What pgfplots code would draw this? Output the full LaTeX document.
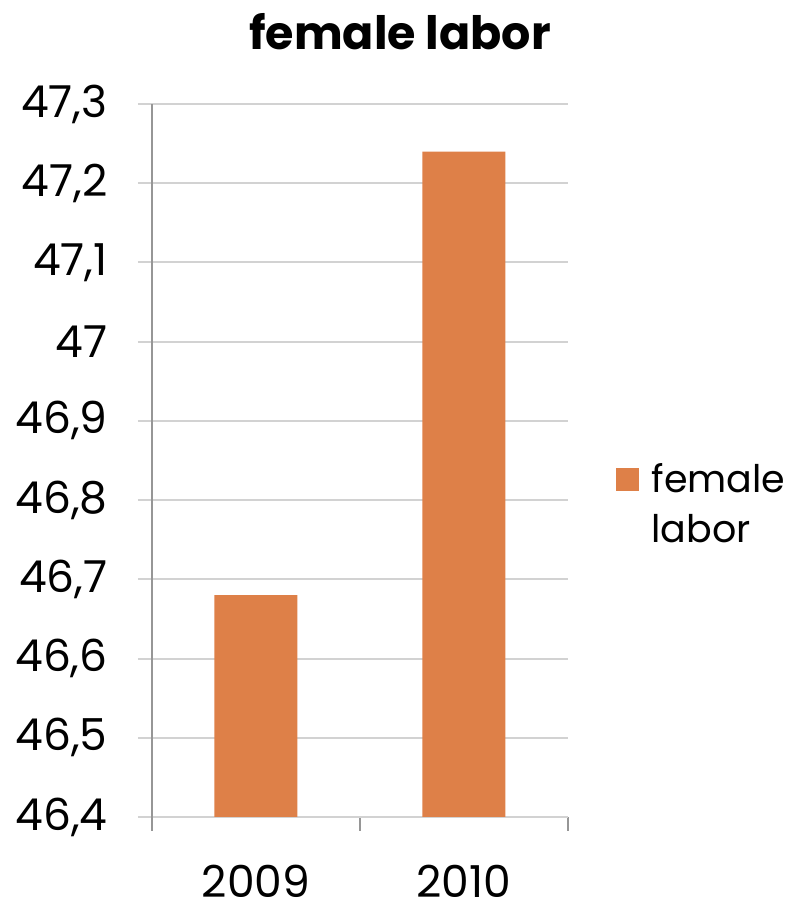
\documentclass[border=0pt]{standalone}
\usepackage{fontspec}
\setmainfont{Poppins}
\usepackage{pgfplots}
\pgfplotsset{compat=1.18}
\definecolor{barc}{RGB}{222,128,72}
\definecolor{gridc}{RGB}{210,210,210}
\definecolor{axc}{RGB}{150,150,150}
\begin{document}
\begin{tikzpicture}
\path[use as bounding box] (-76pt,-44.5pt) rectangle (324pt,408.5pt);
\begin{axis}[
  at={(0,0)}, anchor=south west,
  scale only axis,
  width=208pt, height=356.5pt,
  xmin=-0.5, xmax=1.5,
  ymin=46.4, ymax=47.3,
  ytick={46.4,46.5,46.6,46.7,46.8,46.9,47,47.1,47.2,47.3},
  /pgf/number format/use comma,
  /pgf/number format/assume math mode=true,
  xtick={0,1}, xticklabels={2009,2010},
  minor xtick={-0.5,0.5,1.5},
  ymajorgrids,
  grid style={draw=gridc, line width=1pt},
  axis x line*=bottom, axis y line*=left,
  x axis line style={-, draw=gridc, line width=1.2pt},
  y axis line style={-, draw=axc, line width=0.6pt, shorten <=-6.5pt},
  tick align=outside,
  major tick length=7pt,
  minor tick length=7pt,
  y tick style={draw=gridc, line width=1pt},
  major x tick style={draw=none},
  minor x tick style={draw=axc, line width=0.6pt},
  tick label style={font=\fontsize{22}{26}\selectfont},
  yticklabel style={inner sep=0pt, xshift=-15pt},
  xticklabel style={inner sep=0pt, anchor=base, text depth=0pt, yshift=-33pt},
  title={\textbf{female labor}},
  title style={at={(0.596,1.0603)}, anchor=base, inner sep=0pt, font=\fontsize{23}{27}\selectfont},
  ybar, bar width=41.5pt,
  legend style={draw=none, fill=none, inner sep=0pt, at={(1.1133,0.477)}, anchor=west,
    nodes={inner sep=0pt, anchor=base west}, column sep=6.5pt,
    font=\fontsize{19}{25}\selectfont},
  legend cell align=left,
  legend image code/.code={\fill[barc] (0pt,1pt) rectangle (11.5pt,12.5pt);},
]
\addplot[fill=barc, draw=none] coordinates {(0,46.68) (1,47.24)};
\addlegendentry{\begin{tabular}[t]{@{}l@{}}female\\labor\end{tabular}}
\end{axis}
\end{tikzpicture}
\end{document}
